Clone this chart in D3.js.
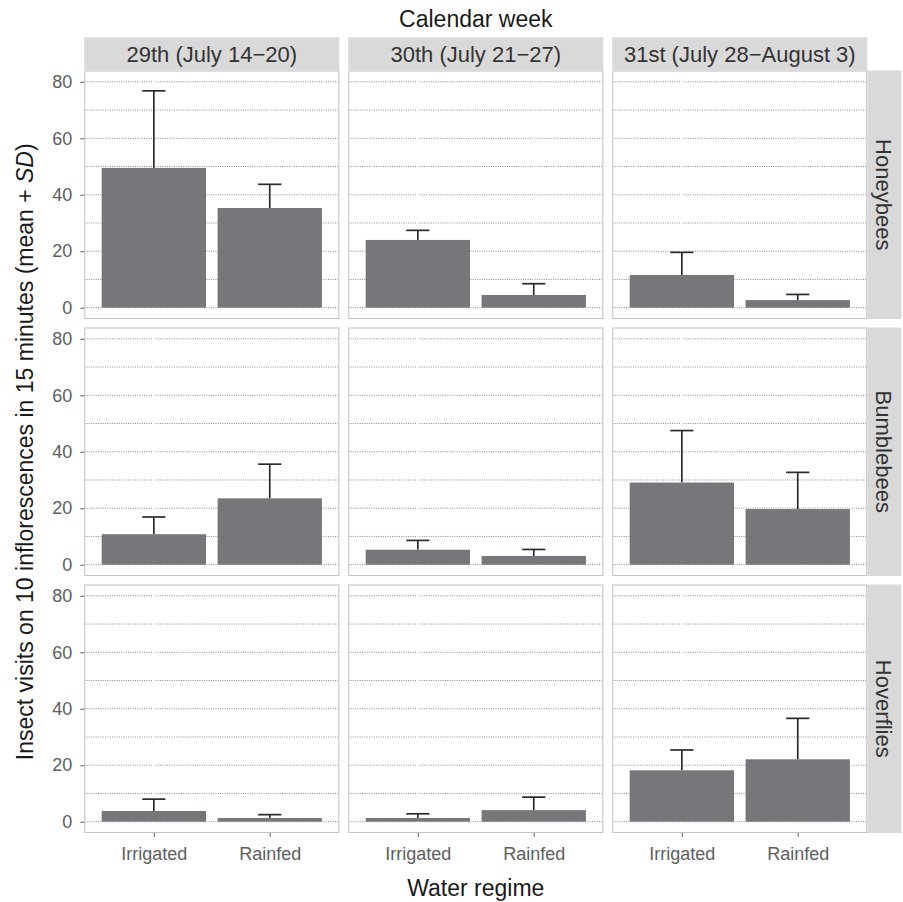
<!DOCTYPE html>
<html>
<head>
<meta charset="utf-8">
<script src="https://cdn.jsdelivr.net/npm/d3@7"></script>
<style>
  html, body { margin: 0; padding: 0; background: #ffffff; }
  svg { display: block; font-family: "Liberation Sans", Arial, Helvetica, sans-serif; }
</style>
</head>
<body>
<svg id="chart" width="903" height="902"></svg>
<script>
// ---- Data ----
const weeks = ["29th (July 14\u221220)", "30th (July 21\u221227)", "31st (July 28\u2212August 3)"];
const insects = ["Honeybees", "Bumblebees", "Hoverflies"];
const regimes = ["Irrigated", "Rainfed"];
const yTicks = [0, 20, 40, 60, 80];
const gridValues = [0, 10, 20, 30, 40, 50, 60, 70, 80];

// means, ordered week29 (Irrigated, Rainfed), week30 (I, R), week31 (I, R)
const honeybeesMean  = [49.5, 35.3, 24.0, 4.5, 11.6, 2.7];
const honeybeesSD    = [27.3,  8.4,  3.4, 4.0,  8.0, 2.0];
const bumblebeesMean = [10.8, 23.5,  5.3, 3.1, 29.1, 19.7];
const bumblebeesSD   = [ 6.1, 12.1,  3.3, 2.3, 18.4, 13.0];
const hoverfliesMean = [ 3.8,  1.3,  1.3, 4.1, 18.2, 22.1];
const hoverfliesSD   = [ 4.2,  1.2,  1.5, 4.6,  7.2, 14.5];

const meansByInsect = [honeybeesMean, bumblebeesMean, hoverfliesMean];
const sdByInsect = [honeybeesSD, bumblebeesSD, hoverfliesSD];

// ---- Layout ----
const svg = d3.select("#chart");
const panelW = 255, panelH = 248.5;
const colX = [84.3, 348.3, 612.3];
const rowY = [70.5, 327.5, 584.5];
const stripTopY = 37.3, stripTopH = 33.2;
const stripRightW = 34.2;
const FONT = "'Liberation Sans', Arial, Helvetica, sans-serif";

const y = d3.scaleLinear().domain([-4, 84]).range([panelH, 0]);
const x = d3.scalePoint().domain(regimes).range([0, panelW]).padding(0.6);
const barW = x.step() * 0.9;
const capW = x.step() * 0.2;

// Top strips
weeks.forEach((w, c) => {
  const g = svg.append("g").attr("transform", `translate(${colX[c]},${stripTopY})`);
  g.append("rect").attr("width", panelW).attr("height", stripTopH).attr("fill", "#d9d9d9");
  g.append("text").attr("x", panelW / 2).attr("y", 25)
    .attr("text-anchor", "middle").attr("font-size", 22).attr("fill", "#333333").text(w);
});

// Right strips
insects.forEach((ins, r) => {
  const g = svg.append("g").attr("transform", `translate(${colX[2] + panelW},${rowY[r]})`);
  g.append("rect").attr("width", stripRightW).attr("height", panelH).attr("fill", "#d9d9d9");
  g.append("text")
    .attr("transform", `translate(${stripRightW / 2 - 8},${panelH / 2}) rotate(90)`)
    .attr("text-anchor", "middle").attr("font-size", 22).attr("fill", "#333333").text(ins);
});

// Panels
insects.forEach((ins, r) => {
  weeks.forEach((w, c) => {
    const g = svg.append("g").attr("transform", `translate(${colX[c]},${rowY[r]})`);
    g.append("rect").attr("width", panelW).attr("height", panelH).attr("fill", "#ffffff");

    // dotted horizontal grid
    g.selectAll("line.hgrid").data(gridValues).enter().append("line")
      .attr("x1", 0).attr("x2", panelW)
      .attr("y1", d => y(d)).attr("y2", d => y(d))
      .attr("stroke", "#8c8c8c").attr("stroke-width", 1)
      .attr("stroke-dasharray", "1,1.3");

    // white vertical major grid
    g.selectAll("line.vgrid").data(regimes).enter().append("line")
      .attr("x1", d => x(d)).attr("x2", d => x(d))
      .attr("y1", 0).attr("y2", panelH)
      .attr("stroke", "#ffffff").attr("stroke-width", 1.6);

    const data = regimes.map((rg, i) => ({
      regime: rg,
      mean: meansByInsect[r][c * 2 + i],
      sd: sdByInsect[r][c * 2 + i]
    }));

    // error bars (mean to mean + SD)
    g.selectAll("line.err").data(data).enter().append("line")
      .attr("x1", d => x(d.regime)).attr("x2", d => x(d.regime))
      .attr("y1", d => y(d.mean)).attr("y2", d => y(d.mean + d.sd))
      .attr("stroke", "#2b2b2b").attr("stroke-width", 1.7);
    g.selectAll("line.cap").data(data).enter().append("line")
      .attr("x1", d => x(d.regime) - capW / 2).attr("x2", d => x(d.regime) + capW / 2)
      .attr("y1", d => y(d.mean + d.sd)).attr("y2", d => y(d.mean + d.sd))
      .attr("stroke", "#2b2b2b").attr("stroke-width", 1.7);

    // bars
    g.selectAll("rect.bar").data(data).enter().append("rect")
      .attr("x", d => x(d.regime) - barW / 2)
      .attr("width", barW)
      .attr("y", d => y(d.mean))
      .attr("height", d => y(0) - y(d.mean))
      .attr("fill", "#76777b");

    // panel border
    g.append("rect").attr("x", 0.5).attr("y", 0.5)
      .attr("width", panelW - 1).attr("height", panelH - 1)
      .attr("fill", "none").attr("stroke", "#c4c4c4").attr("stroke-width", 1.1);

    // y axis on first column
    if (c === 0) {
      const ax = g.append("g").call(d3.axisLeft(y).tickValues(yTicks).tickSize(4).tickPadding(8).tickFormat(d3.format("d")));
      ax.select(".domain").remove();
      ax.selectAll(".tick line").attr("stroke", "#6e6e6e").attr("stroke-width", 1.1);
      ax.selectAll(".tick text").attr("font-size", 18).attr("fill", "#5e5e5e")
        .attr("font-family", FONT);
    }
    // x axis on bottom row
    if (r === insects.length - 1) {
      const ax = g.append("g").attr("transform", `translate(0,${panelH})`)
        .call(d3.axisBottom(x).tickSize(4).tickPadding(10.5));
      ax.select(".domain").remove();
      ax.selectAll(".tick line").attr("stroke", "#6e6e6e").attr("stroke-width", 1.1);
      ax.selectAll(".tick text").attr("font-size", 18).attr("fill", "#5e5e5e")
        .attr("font-family", FONT);
    }
  });
});

// Titles
const centerX = (colX[0] + colX[2] + panelW) / 2;
svg.append("text").attr("x", centerX).attr("y", 27)
  .attr("text-anchor", "middle").attr("font-size", 23).attr("fill", "#1a1a1a").text("Calendar week");
svg.append("text").attr("x", centerX).attr("y", 895.5)
  .attr("text-anchor", "middle").attr("font-size", 23).attr("fill", "#1a1a1a").text("Water regime");

const yTitle = svg.append("text")
  .attr("transform", `translate(33.3,${(rowY[0] + rowY[2] + panelH) / 2}) rotate(-90)`)
  .attr("text-anchor", "middle").attr("font-size", 23).attr("fill", "#1a1a1a");
yTitle.append("tspan").text("Insect visits on 10 inflorescences in 15 minutes (mean + ");
yTitle.append("tspan").attr("font-style", "italic").text("SD");
yTitle.append("tspan").text(")");
</script>
</body>
</html>
